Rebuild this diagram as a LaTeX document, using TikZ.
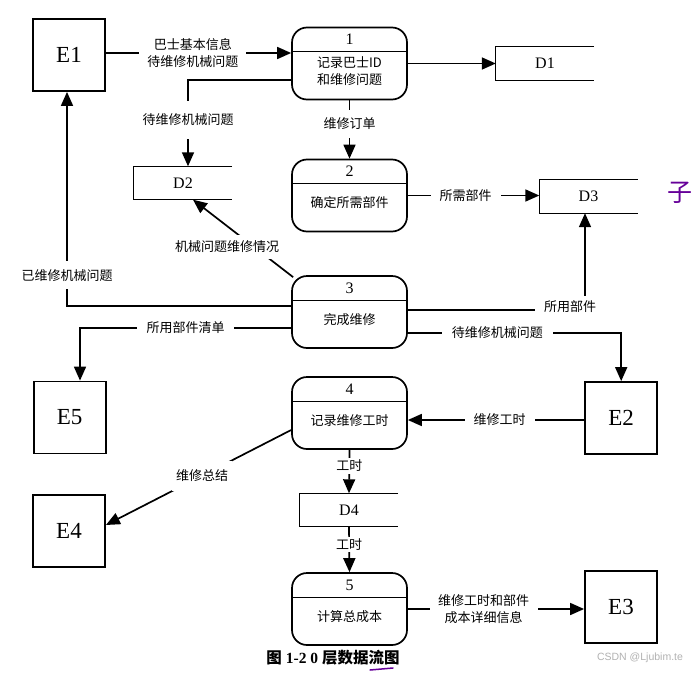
\documentclass[tikz,border=0pt]{standalone}
\usepackage{fontspec}
\setmainfont{Liberation Serif}
\newfontfamily\cjk{Noto Sans CJK SC}
\newfontfamily\wmfont{Liberation Sans}
\usetikzlibrary{arrows.meta,calc}
\tikzset{
  procbox/.style={draw, line width=1.7pt, rounded corners=15pt, minimum width=115pt, minimum height=72pt, inner sep=0pt},
  divline/.style={line width=1.3pt},
  numtxt/.style={font=\fontsize{16}{18}\selectfont, inner sep=0pt},
  proctxt/.style={font=\cjk\fontsize{13}{17}\selectfont, align=center, inner sep=0pt},
  entbox/.style={draw, line width=1.8pt, minimum width=72pt, minimum height=72pt, inner sep=0pt, font=\fontsize{23}{25}\selectfont},
  storebox/.style={minimum width=98pt, minimum height=33pt, inner sep=0pt, font=\fontsize{16}{18}\selectfont},
  storeline/.style={line width=1.2pt, line join=miter},
  flow/.style={draw, line width=1.7pt, -{Triangle[length=14pt,width=12pt]}},
  lbl/.style={fill=white, font=\cjk\fontsize{13}{17}\selectfont, align=center, inner xsep=6pt, inner ysep=4pt},
}
\newcommand{\procnode}[5]{%
  \node[procbox] (#1) at (#2,#3) {};
  \draw[divline] ([yshift=-25pt]#1.north west) -- ([yshift=-25pt]#1.north east);
  \node[numtxt] (#1n) at ([yshift=-13pt]#1.north) {#4};
  \node[proctxt] (#1t) at ([yshift=-44pt]#1.north) {#5};
}
\newcommand{\storenode}[4]{%
  \node[storebox] (#1) at (#2,#3) {#4};
  \draw[storeline] (#1.north east) -- (#1.north west) -- (#1.south west) -- (#1.south east);
}
\begin{document}
\begin{tikzpicture}[x=1pt,y=-1pt]
\fill[white] (0,0) rectangle (696,672);
\useasboundingbox (0,0) rectangle (696,672);

% external entities
\node[entbox] (e1) at (69,55) {E1};
\node[entbox] (e5) at (69.7,417.5) {E5};
\node[entbox] (e4) at (69,531) {E4};
\node[entbox] (e2) at (621.2,418) {E2};
\node[entbox] (e3) at (621,607) {E3};

% processes
\procnode{p1}{349.5}{63.5}{1}{记录巴士ID\\和维修问题}
\procnode{p2}{349.5}{195.5}{2}{确定所需部件}
\procnode{p3}{349.5}{312}{3}{完成维修}
\procnode{p4}{349.5}{413}{4}{记录维修工时}
\procnode{p5}{349.5}{609}{5}{计算总成本}

% data stores
\storenode{d1}{545}{63.5}{D1}
\storenode{d2}{183}{183}{D2}
\storenode{d3}{588.5}{196.5}{D3}
\storenode{d4}{349}{510}{D4}

% flows
\draw[flow] (e1.east |- 0,53) -- node[lbl, pos=0.47, inner xsep=8pt]{巴士基本信息\\待维修机械问题} (p1.west |- 0,53);
\draw[flow] (p1.east) -- (d1.west);
\draw[flow] (p1.west |- 0,80) -| node[lbl, pos=0.73, inner ysep=13pt]{待维修机械问题} ([xshift=5pt]d2.north);
\draw[flow] (p1.south) -- node[lbl, pos=0.4, inner ysep=8pt]{维修订单} (p2.north);
\draw[flow] (p2.east) -- node[lbl, pos=0.44, inner xsep=9pt]{所需部件} (p2.east -| d3.west);
\draw[flow] ([xshift=2pt,yshift=-2pt]p3.north west) -- node[lbl, pos=0.39, xshift=-27pt, inner ysep=6pt]{机械问题维修情况} ([xshift=10pt]d2.south);
\draw[flow] (p3.west |- 0,306) -| node[lbl, pos=0.572, inner ysep=8pt]{已维修机械问题} ([xshift=-2pt]e1.south);
\draw[flow] (p3.west |- 0,328) -| node[lbl, pos=0.25, inner xsep=9.5pt]{所用部件清单} ([xshift=10.3pt]e5.north);
\draw[flow] (p3.east |- 0,310) -| node[lbl, pos=0.5, xshift=-15pt, yshift=3pt, inner xsep=9pt, inner ysep=5pt]{所用部件} ([xshift=-3.5pt]d3.south);
\draw[flow] (p3.east |- 0,333) -| node[lbl, pos=0.21, inner xsep=10pt]{待维修机械问题} (e2.north);
\draw[flow] ([yshift=-2pt]e2.west) -- node[lbl, pos=0.48, inner xsep=9pt]{维修工时} ([yshift=-2pt]e2.west -| p4.east);
\draw[flow] (p4.west |- 0,430) -- node[lbl, pos=0.48, inner xsep=4pt, inner ysep=9pt]{维修总结} ([yshift=6pt]e4.east);
\draw[flow] (p4.south) -- node[lbl, pos=0.37, inner ysep=2pt]{工时} (d4.north);
\draw[flow] (d4.south) -- node[lbl, pos=0.39, inner ysep=2pt]{工时} (p5.north);
\draw[flow] (p5.east) -- node[lbl, pos=0.43, inner xsep=8.5pt]{维修工时和部件\\成本详细信息} (p5.east -| e3.west);

% caption, annotation, watermark
\node[inner sep=0pt, font=\fontsize{15.5}{17}\selectfont] (cap) at (333,658) {{\cjk\bfseries 图} \textbf{1-2 0} {\cjk\bfseries 层数据流图}};
\node[inner sep=0pt, text=violet!80!blue, font=\cjk\fontsize{25}{27}\selectfont] (ann) at (680,193) {子};
\draw[violet!80!blue, line width=1.5pt, line cap=round] (370,670) -- (393,668);
\node[inner sep=0pt, text=gray!60, font=\wmfont\fontsize{10.5}{12}\selectfont] (wm) at (640,658) {CSDN @Ljubim.te};
\end{tikzpicture}
\end{document}
